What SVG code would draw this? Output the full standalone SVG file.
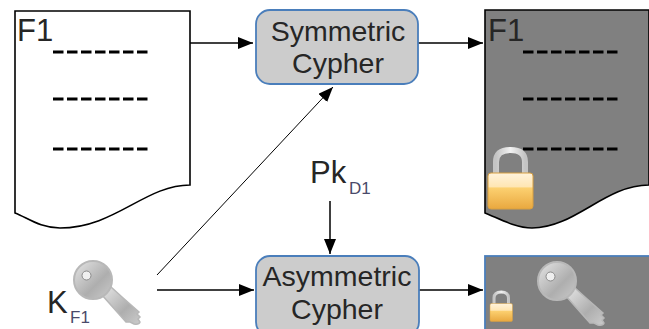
<svg xmlns="http://www.w3.org/2000/svg" width="649" height="329" viewBox="0 0 649 329">
<defs>
<linearGradient id="keyG" x1="0" y1="0" x2="1" y2="1"><stop offset="0" stop-color="#e6e6e6"/><stop offset="0.6" stop-color="#aeaeae"/><stop offset="1" stop-color="#cbcbcb"/></linearGradient>
<linearGradient id="lockG" x1="0" y1="0" x2="0" y2="1"><stop offset="0" stop-color="#fff3dc"/><stop offset="0.38" stop-color="#ffe6b4"/><stop offset="0.42" stop-color="#fcd070"/><stop offset="1" stop-color="#e9a83f"/></linearGradient>
<linearGradient id="shackleG" x1="0" y1="0" x2="1" y2="0"><stop offset="0" stop-color="#c4c4c4"/><stop offset="0.5" stop-color="#f2f2f2"/><stop offset="1" stop-color="#c4c4c4"/></linearGradient>
<marker id="arrow" markerWidth="16" markerHeight="12" refX="15" refY="6" orient="auto" markerUnits="userSpaceOnUse"><path d="M0 0L15 6L0 12z" fill="#000"/></marker>
<g id="keyShape">
<path d="M9 15L18 7L29 17L46 32L44 34L47 37L45 39L47 42Q46 45 41 44L37 42L33 42Z" fill="url(#keyG)" stroke="#b8b8b8" stroke-width="1.5"/>
<circle cx="0" cy="0" r="19" fill="url(#keyG)" stroke="#b8b8b8" stroke-width="2"/>
<circle cx="-6.500" cy="-4.500" r="4.500" fill="#efefef" stroke="#8a8a8a" stroke-width="1"/>
</g>
<g id="lockShape">
<path d="M8 28V14Q8 2 22.500 2Q37 2 37 14V28" fill="none" stroke="url(#shackleG)" stroke-width="6"/>
<rect x="0" y="25" width="45" height="36" rx="3" fill="url(#lockG)" stroke="#d9a040" stroke-width="1"/>
</g>
</defs>
<style>
text{font-family:"Liberation Sans",Arial,sans-serif;fill:#262626}
.big{font-size:31px}
.box{font-size:28.5px;text-anchor:middle}
.sub{font-size:17px;fill:#4a4a6a}
.dl{stroke:#000;stroke-width:3;stroke-dasharray:10.500 3.500;fill:none}
.doc{stroke:#000;stroke-width:1.6}
.proc{fill:#cccccc;stroke:#4a7ebb;stroke-width:1.8}
.conn{stroke:#000;stroke-width:1.500;fill:none;marker-end:url(#arrow)}
</style>
<rect width="649" height="329" fill="#fff"/>
<g id="connectors">
<path class="conn" d="M190 43H253"/>
<path class="conn" d="M418 43H483"/>
<path class="conn" style="stroke-width:1" d="M157 275L333 87"/>
<path class="conn" d="M157 290H254"/>
<path class="conn" d="M330 201V254"/>
<path class="conn" d="M419 290H483"/>
</g>
<g id="doc-plain">
<path class="doc" fill="#fff" d="M15 11H190V185C145 185 115 228 60 228C40 228 28 218 15 213Z"/>
<text class="big" x="17" y="41">F1</text>
<path class="dl" d="M53 52H150M53 99H150M53 149H150"/>
</g>
<g id="sym-cypher">
<rect class="proc" x="256" y="10" width="162" height="74" rx="14"/>
<text class="box" x="338" y="41">Symmetric</text>
<text class="box" x="338" y="73">Cypher</text>
</g>
<g id="doc-locked">
<path class="doc" fill="#808080" d="M485 10H649V185C605 185 575 228 532 228C515 228 498 218 485 213Z"/>
<text class="big" x="488" y="41">F1</text>
<path class="dl" d="M523 52H620M523 99H620M523 149H620"/>
<use href="#lockShape" x="488" y="148"/>
</g>
<g id="pk-label">
<text class="big" x="310" y="183">Pk</text>
<text class="sub" x="349" y="194">D1</text>
</g>
<g id="key-label">
<text class="big" x="47" y="313">K</text>
<text class="sub" x="70" y="323">F1</text>
<use href="#keyShape" x="93" y="280"/>
</g>
<g id="asym-cypher">
<rect class="proc" x="256" y="256" width="163" height="80" rx="14"/>
<text class="box" x="337" y="286">Asymmetric</text>
<text class="box" x="337" y="319">Cypher</text>
</g>
<g id="result">
<rect x="485" y="256" width="170" height="80" fill="#808080" stroke="#4a7ebb" stroke-width="1.8"/>
<use href="#keyShape" x="557" y="281"/>
<use href="#lockShape" transform="translate(490 291) scale(0.5)"/>
</g>
</svg>
